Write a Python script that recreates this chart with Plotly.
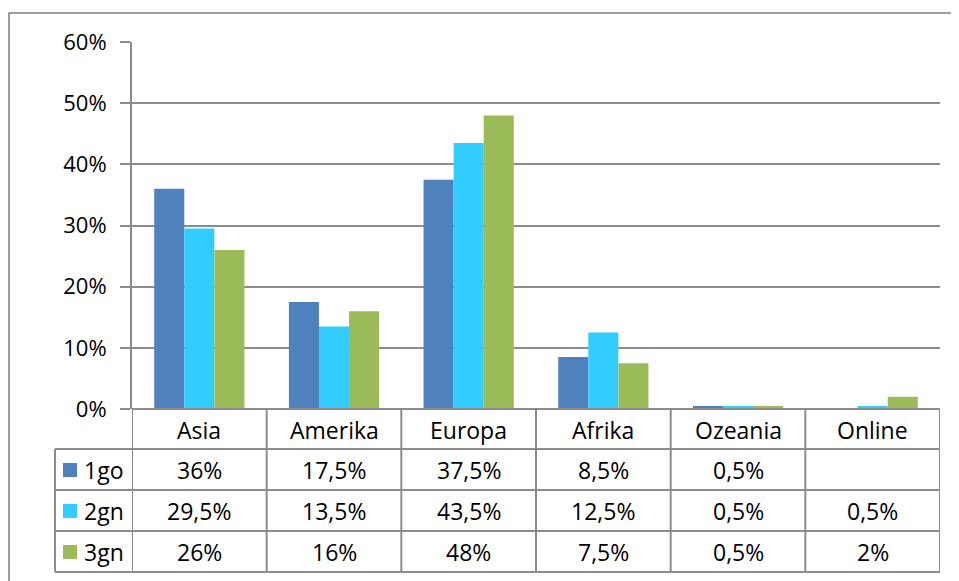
import plotly.graph_objects as go

CATEGORIES = ["Asia", "Amerika", "Europa", "Afrika", "Ozeania", "Online"]
SERIES = ["1go", "2gn", "3gn"]
VAL_1GO = [0.36, 0.175, 0.375, 0.085, 0.005, None]
VAL_2GN = [0.295, 0.135, 0.435, 0.125, 0.005, 0.005]
VAL_3GN = [0.26, 0.16, 0.48, 0.075, 0.005, 0.02]
LABELS_1GO = ["36%", "17,5%", "37,5%", "8,5%", "0,5%", ""]
LABELS_2GN = ["29,5%", "13,5%", "43,5%", "12,5%", "0,5%", "0,5%"]
LABELS_3GN = ["26%", "16%", "48%", "7,5%", "0,5%", "2%"]

COLORS = ["#4F81BD", "#33CCFF", "#9BBB59"]
GRID = "#8C8C8C"
FONT = "Open Sans"

W, H = 959, 581
OFF = 8  # page body margin
# target plot area in screen pixels: x 132..940, y 42..409
PX0, PX1, PY0, PY1 = 132, 940, 42, 409
L, T = PX0 - OFF, PY0 - OFF
PW, PH = PX1 - PX0, PY1 - PY0
R, B = W - L - PW, H - T - PH


def px_x(px):
    return (px - PX0) / PW


def px_y(py):
    return (PY1 - py) / PH


values = [VAL_1GO, VAL_2GN, VAL_3GN]
labels = [LABELS_1GO, LABELS_2GN, LABELS_3GN]

fig = go.Figure()
for name, vals, col in zip(SERIES, values, COLORS):
    fig.add_trace(go.Bar(
        x=list(range(len(CATEGORIES))), y=vals, name=name,
        marker=dict(color=col, line=dict(width=0)),
        showlegend=False,
    ))

shapes = []
line = dict(color=GRID, width=2)
# table row lines
row_edges = [409, 449, 490, 531, 572]
for i, py in enumerate(row_edges):
    x0 = px_x(132) if i == 0 else px_x(55)
    shapes.append(dict(type="line", xref="paper", yref="paper",
                       x0=x0, x1=1, y0=px_y(py), y1=px_y(py), line=line))
# table column lines
for i in range(len(CATEGORIES) + 1):
    shapes.append(dict(type="line", xref="x", yref="paper",
                       x0=i - 0.5, x1=i - 0.5, y0=px_y(409), y1=px_y(572), line=line))
shapes.append(dict(type="line", xref="paper", yref="paper",
                   x0=px_x(55), x1=px_x(55), y0=px_y(449), y1=px_y(572), line=line))
# outer chart frame
shapes.append(dict(type="rect", xref="paper", yref="paper",
                   x0=px_x(9), x1=px_x(975), y0=px_y(13), y1=px_y(600),
                   line=dict(color="#7F7F7F", width=1.5)))

txt = dict(size=23, color="black", family=FONT)
annotations = []
for i, c in enumerate(CATEGORIES):
    annotations.append(dict(x=i, y=px_y(430), xref="x", yref="paper", text=c,
                            xanchor="center", yanchor="middle",
                            showarrow=False, font=txt))
row_centers = [470, 511, 552]
for name, labs, col, yc in zip(SERIES, labels, COLORS, row_centers):
    shapes.append(dict(type="rect", xref="paper", yref="paper",
                       x0=px_x(63), x1=px_x(77), y0=px_y(yc - 7), y1=px_y(yc + 7),
                       fillcolor=col, line=dict(width=0)))
    annotations.append(dict(x=px_x(82), y=px_y(yc), xref="paper", yref="paper", text=name,
                            xanchor="left", yanchor="middle", showarrow=False, font=txt))
    for i, t in enumerate(labs):
        annotations.append(dict(x=i, y=px_y(yc), xref="x", yref="paper", text=t,
                                xanchor="center", yanchor="middle",
                                showarrow=False, font=txt))

fig.update_layout(
    width=W, height=H,
    margin=dict(l=L, r=R, t=T, b=B),
    plot_bgcolor="white", paper_bgcolor="white",
    barmode="group", bargap=0.33, bargroupgap=0,
    shapes=shapes, annotations=annotations,
    font=dict(family=FONT, color="black"),
)
fig.update_xaxes(range=[-0.5, 5.5], showticklabels=False, showgrid=False,
                 zeroline=False, showline=False, ticks="")
fig.update_yaxes(range=[0, 0.6], dtick=0.1, tickformat=".0%",
                 showgrid=True, gridcolor=GRID, gridwidth=2,
                 zeroline=False, showline=True, linecolor=GRID, linewidth=2,
                 ticks="outside", ticklen=10, tickcolor=GRID, tickwidth=2,
                 ticklabelstandoff=9,
                 tickfont=dict(size=22, color="black", family=FONT))

fig.write_html("out.html")
